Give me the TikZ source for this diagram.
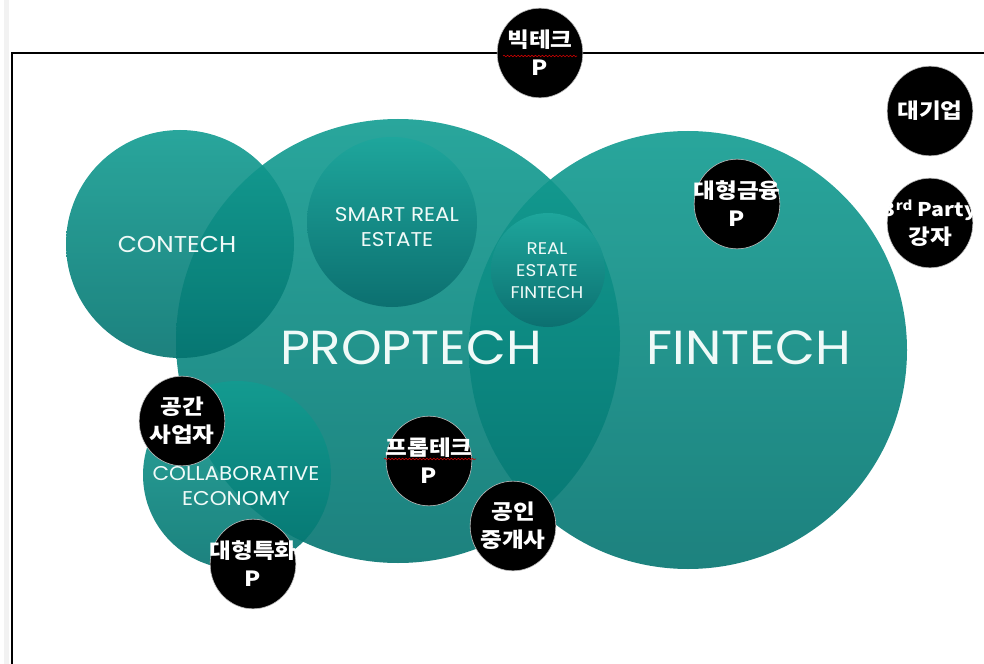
\documentclass[tikz,border=0pt]{standalone}
\usepackage{fontspec}
\setsansfont{Poppins}[FakeStretch=1.08]
\newfontfamily\kr{Noto Sans CJK KR}[FakeStretch=1.13]
\usetikzlibrary{shapes.geometric, calc, decorations.pathmorphing}
\definecolor{bubtop}{RGB}{18,156,145}
\definecolor{bubbot}{RGB}{4,116,112}
\definecolor{innertop}{RGB}{30,166,156}
\definecolor{innerbot}{RGB}{12,112,112}
\definecolor{labelwhite}{RGB}{240,250,248}

\begin{document}
\begin{tikzpicture}[x=1bp, y=-1bp,
    bubble/.style={top color=bubtop, bottom color=bubbot, opacity=0.9},
    inner/.style={top color=innertop, bottom color=innerbot},
    area/.style={text=labelwhite, align=center, inner sep=0},
    player/.style={ellipse, fill=black, draw=white!75!black, line width=0.6,
      minimum width=86, minimum height=90, inner xsep=-30, inner ysep=0,
      text=white, align=center, font=\kr\bfseries\fontsize{21}{28}\selectfont},
    squiggle/.style={draw=red!80!black, line width=0.6, decorate,
      decoration={snake, segment length=3.5, amplitude=0.8}}]
    \useasboundingbox (0,0) rectangle (984,664);
    \fill[gray!10] (4,0) rectangle (9,664);
    \draw[line width=1.5] (984,53) -- (12,53) -- (12,664);
    \shade[bubble] (398,341) circle [radius=222];
    \shade[bubble] (180,244) circle [radius=114];
    \shade[bubble] (688,350) circle [radius=219];
    \shade[bubble] (237,475) circle [radius=94];
    \shade[inner] (392,222) circle [radius=85];
    \shade[inner] (548,270) circle [radius=57];
    \node[area, font=\sffamily\fontsize{23}{28}\selectfont] (contech) at (177,244) {CONTECH};
    \node[area, font=\sffamily\fontsize{20}{26}\selectfont] (smart) at (397,227) {SMART REAL\\ESTATE};
    \node[area, font=\sffamily\fontsize{17}{22}\selectfont] (refintech) at (547,271) {REAL\\ESTATE\\FINTECH};
    \node[area, font=\sffamily\fontsize{48}{50}\selectfont] (proptech) at (411,348) {PROPTECH};
    \node[area, font=\sffamily\fontsize{48}{50}\selectfont] (fintech) at (749,348) {FINTECH};
    \node[area, font=\sffamily\fontsize{20}{26}\selectfont] (collab) at (236,486) {COLLABORATIVE\\ECONOMY};
    \node[player] (bigtech) at (540,53) {빅테크\\P};
    \node[player] (chaebol) at (930,111) {대기업};
    \node[player] (thirdparty) at (930,223) {{\fontsize{19}{28}\selectfont 3\textsuperscript{rd} Party}\\강자};
    \node[player] (bigfin) at (737,204) {대형금융\\P};
    \node[player] (space) at (182,421) {공간\\사업자};
    \node[player] (propco) at (429,461) {프롭테크\\P};
    \node[player] (broker) at (513,526) {공인\\중개사};
    \node[player] (special) at (253,564) {대형특화\\P};
    \draw[squiggle] ($(bigtech)+(-37,3)$) -- ($(bigtech)+(37,3)$);
    \draw[squiggle] ($(propco)+(-45,-2)$) -- ($(propco)+(47,-2)$);
  \end{tikzpicture}
\end{document}
